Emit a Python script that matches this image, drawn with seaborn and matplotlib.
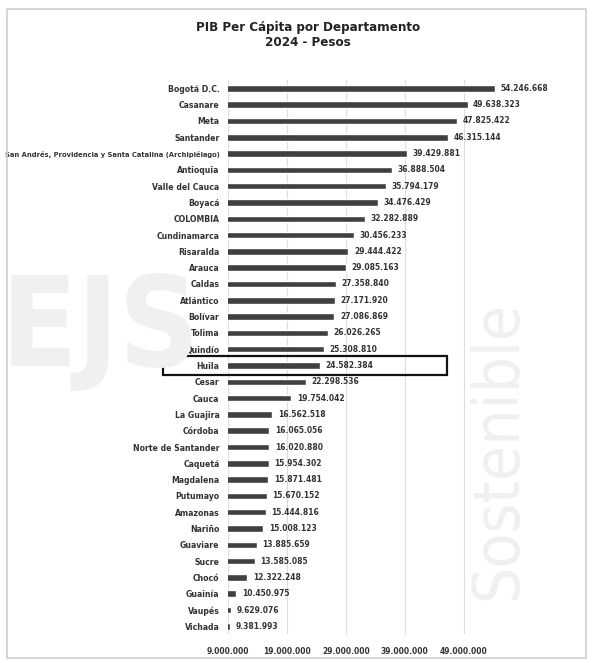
"""PIB per cápita por departamento, 2024 (pesos) - horizontal bar chart."""

import matplotlib.pyplot as plt
import pandas as pd
import seaborn as sns
from matplotlib.patches import Rectangle

departamentos = [
    "Bogotá D.C.", "Casanare", "Meta", "Santander",
    "San Andrés, Providencia y Santa Catalina (Archipiélago)",
    "Antioquia", "Valle del Cauca", "Boyacá", "COLOMBIA", "Cundinamarca",
    "Risaralda", "Arauca", "Caldas", "Atlántico", "Bolívar", "Tolima",
    "Quindío", "Huila", "Cesar", "Cauca", "La Guajira", "Córdoba",
    "Norte de Santander", "Caquetá", "Magdalena", "Putumayo", "Amazonas",
    "Nariño", "Guaviare", "Sucre", "Chocó", "Guainía", "Vaupés", "Vichada",
]
pib_per_capita = [
    54246668, 49638323, 47825422, 46315144,
    39429881,
    36888504, 35794179, 34476429, 32282889, 30456233,
    29444422, 29085163, 27358840, 27171920, 27086869, 26026265,
    25308810, 24582384, 22298536, 19754042, 16562518, 16065056,
    16020880, 15954302, 15871481, 15670152, 15444816,
    15008123, 13885659, 13585085, 12322248, 10450975, 9629076, 9381993,
]
destacado = "Huila"
x_ticks = [9000000, 19000000, 29000000, 39000000, 49000000]


def miles(v):
    return f"{v:,.0f}".replace(",", ".")


df = pd.DataFrame({"departamento": departamentos, "pib": pib_per_capita})

sns.set_theme(style="white")
plt.rcParams["font.family"] = ["DejaVu Sans"]
plt.rcParams["font.stretch"] = "condensed"

fig = plt.figure(figsize=(5.93, 6.63), dpi=100)
ax = fig.add_axes([0.384, 0.043, 0.55, 0.836])

# faint watermark in the background
fig.text(0.17, 0.5, "EJS", fontsize=90, fontweight="bold", color="#f0f0f0",
         ha="center", va="center", zorder=0)
fig.text(0.84, 0.32, "Sostenible", fontsize=46, color="#f0f0f0", rotation=90,
         ha="center", va="center", zorder=0)
fig.patches.append(Rectangle((0.012, 0.008), 0.976, 0.978, transform=fig.transFigure,
                             fill=False, edgecolor="#d0d0d0", linewidth=1.2))

sns.barplot(data=df, y="departamento", x="pib", orient="h", color="#404040",
            width=0.4, ax=ax, zorder=3)
ax.patch.set_alpha(0)

ax.set_xlim(9000000, 64250000)
ax.set_xticks(x_ticks)
ax.set_xticklabels([miles(t) for t in x_ticks], fontsize=6, fontweight="bold",
                   color="#333333")
ax.xaxis.grid(True, color="#dddddd", linewidth=0.8, zorder=0)
ax.tick_params(axis="x", length=0, pad=9)
ax.tick_params(axis="y", length=0, pad=6)
for lbl in ax.get_yticklabels():
    lbl.set_fontsize(6.2)
    lbl.set_fontweight("bold")
    lbl.set_color("#333333")
ax.set_xlabel("")
ax.set_ylabel("")
sns.despine(ax=ax, left=True, bottom=True)

ax.bar_label(ax.containers[0], labels=[miles(v) for v in pib_per_capita],
             padding=4, fontsize=6, fontweight="bold", color="#333333")

# frame around the highlighted department
i = departamentos.index(destacado)
ax.add_patch(Rectangle((-0.199, i - 0.6), 0.872, 1.2,
                       transform=ax.get_yaxis_transform(), fill=False,
                       edgecolor="#111111", linewidth=1.6, clip_on=False, zorder=5))

fig.suptitle("PIB Per Cápita por Departamento\n2024 - Pesos", x=0.52, y=0.968,
             fontsize=9.5, fontweight="bold", color="#222222", linespacing=1.15)

# the long San Andrés label must fit left of the axes
fig.canvas.draw()
renderer = fig.canvas.get_renderer()
room = ax.get_window_extent().x0 - 14
for lbl in ax.get_yticklabels():
    w = lbl.get_window_extent(renderer).width
    if w > room:
        lbl.set_fontsize(lbl.get_fontsize() * room / w)

fig.savefig("out.png", dpi=100)
